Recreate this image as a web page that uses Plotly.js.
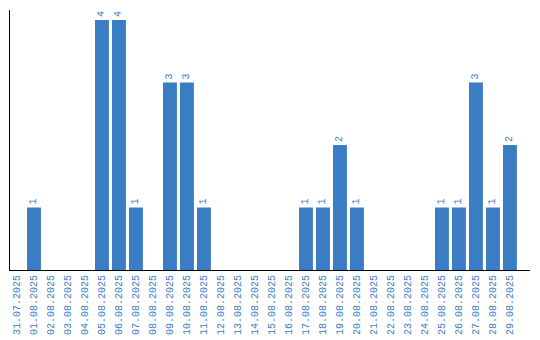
<!DOCTYPE html>
<html><head><meta charset="utf-8">
<script src="https://cdn.plot.ly/plotly-3.0.1.min.js"></script>
<style>html,body{margin:0;padding:0;background:#fff}#c{width:540px;height:340px}</style>
</head><body><div id="c"></div>
<script>
var dates = ["31.07.2025","01.08.2025","02.08.2025","03.08.2025","04.08.2025","05.08.2025","06.08.2025","07.08.2025","08.08.2025","09.08.2025","10.08.2025","11.08.2025","12.08.2025","13.08.2025","14.08.2025","15.08.2025","16.08.2025","17.08.2025","18.08.2025","19.08.2025","20.08.2025","21.08.2025","22.08.2025","23.08.2025","24.08.2025","25.08.2025","26.08.2025","27.08.2025","28.08.2025","29.08.2025"];
var counts = [0,1,0,0,0,4,4,1,0,3,3,1,0,0,0,0,0,1,1,2,1,0,0,0,0,1,1,3,1,2];
var labels = counts.map(function(v){return v>0?String(v):"";});
var blue = "#3b7dc4";
var font = {family:"Liberation Mono, Courier New, monospace", size:10, color:blue};
Plotly.newPlot("c", [{
  type:"bar", x:dates, y:counts, text:labels,
  textposition:"outside", textangle:-90, constraintext:"none", cliponaxis:false,
  textfont:font, marker:{color:blue}, hoverinfo:"none"
}], {
  width:540, height:340, margin:{l:10,r:10,t:10,b:70},
  paper_bgcolor:"#fff", plot_bgcolor:"#fff", bargap:0.18, showlegend:false,
  xaxis:{type:"category", range:[-0.41,30.18], tickangle:-90, tickfont:font,
    showline:true, linecolor:"#000", linewidth:1, showgrid:false, ticks:"", zeroline:false},
  yaxis:{range:[0,4.16], showline:true, linecolor:"#000", linewidth:1, showgrid:false,
    showticklabels:false, ticks:"", zeroline:false}
}, {staticPlot:true});
</script></body></html>
